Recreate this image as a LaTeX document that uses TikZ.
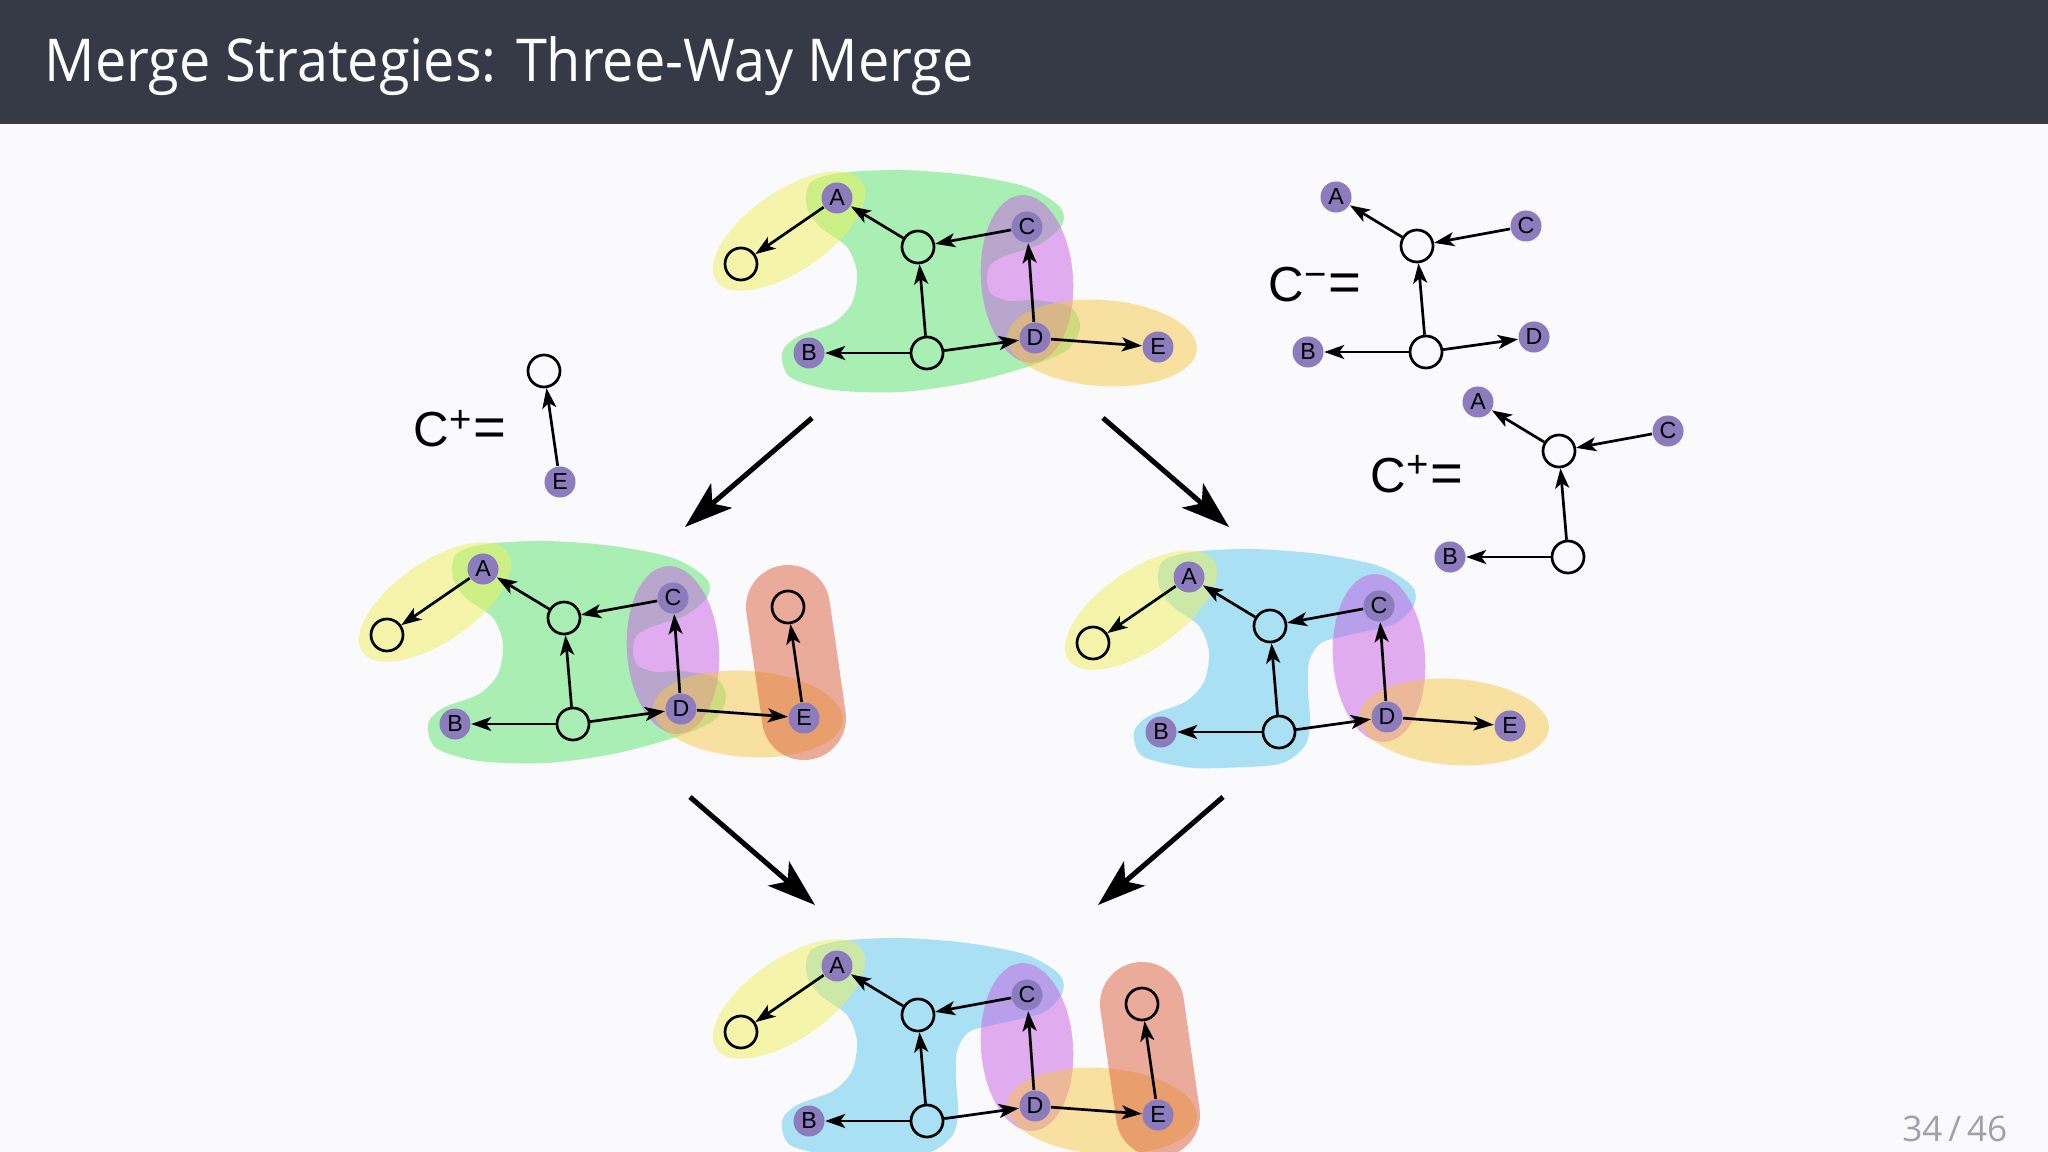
\documentclass[tikz,border=0pt]{standalone}
\usepackage{fontspec}
\setmainfont{Open Sans}
\setsansfont{Liberation Sans}
\newfontfamily\titlefont[FakeStretch=0.945]{Open Sans}
\usetikzlibrary{arrows.meta}

\definecolor{slidebar}{RGB}{54,57,70}
\definecolor{slidebg}{RGB}{250,249,252}
\definecolor{pagegray}{RGB}{160,160,166}
\definecolor{commitpurple}{RGB}{140,124,190}
\definecolor{hullgreen}{RGB}{90,230,110}
\definecolor{hullblue}{RGB}{90,200,238}
\definecolor{hullyellow}{RGB}{240,240,90}
\definecolor{hullpurple}{RGB}{200,95,228}
\definecolor{hullorange}{RGB}{246,200,70}
\definecolor{hullred}{RGB}{220,95,60}

\tikzset{
  commit/.style={circle, fill=commitpurple, inner sep=0pt, minimum size=0.31cm,
    font=\sffamily\fontsize{6.6}{7}\selectfont},
  blank/.style={circle, draw=black, line width=0.027cm, inner sep=0pt, minimum size=0.32cm},
  dep/.style={-{Stealth[length=0.2cm, width=0.14cm, inset=0.05cm]}, line width=0.027cm},
  hull/.style={fill=#1, fill opacity=0.5},
  band/.style={draw=#1, draw opacity=0.5, line width=0.84cm, line cap=round},
  bigarrow/.style={-{Stealth[length=0.48cm, width=0.32cm, inset=0.12cm]}, line width=0.05cm},
  eqlabel/.style={anchor=base west, inner sep=0pt, font=\sffamily\fontsize{14}{15}\selectfont},
}

% C with a raised sign and a large equals sign
\newcommand{\changeset}[1]{C\raisebox{4.1pt}{\fontsize{10.9}{11}\selectfont #1}\hspace{0.5pt}{\fontsize{16}{17}\selectfont =}}

% hulls, drawn in the local frame of one graph (A at the origin)
\newcommand{\greenhull}{\fill[hull=hullgreen] plot[smooth cycle] coordinates {
  (-27,-15) (3,-25) (63,-28) (130,-23) (190,-11) (223,9) (225,27) (203,46)
  (168,58) (153,67) (150,82) (154,96) (172,103) (198,102) (233,109) (243,129)
  (230,152) (190,169) (130,185) (63,194) (-4,192) (-47,179) (-55,155) (-40,139)
  (-4,125) (15,105) (20,75) (10,49) (-17,29) (-30,9)};}
\newcommand{\bluehull}{\fill[hull=hullblue] plot[smooth cycle] coordinates {
  (-27,-15) (3,-25) (63,-28) (130,-23) (190,-11) (223,9) (225,28) (205,47)
  (160,58) (132,66) (120,85) (119,113) (121,147) (115,170) (90,187) (30,191)
  (-4,190) (-47,179) (-55,155) (-40,139) (-4,125) (15,105) (20,75) (10,49)
  (-17,29) (-30,9)};}
\newcommand{\sidehulls}{
  \fill[hull=hullyellow, rotate around={34.5:(-48,33)}] (-48,33) ellipse [x radius=0.88cm, y radius=0.4cm];
  \fill[hull=hullpurple, rotate around={4:(190,81)}] (190,81) ellipse [x radius=0.46cm, y radius=0.84cm];
  \fill[hull=hullorange, rotate around={-4:(265,145)}] (265,145) ellipse [x radius=0.95cm, y radius=0.43cm];
}
\newcommand{\redhull}{\draw[band=hullred] (305,38) -- (321,149);}

% commits of one full graph, #1 = prefix of the names
\newcommand{\fullgraph}[1]{
  \node[commit] (#1a) at (0,0) {A};
  \node[blank]  (#1l) at (-96,66) {};
  \node[blank]  (#1t) at (81,49) {};
  \node[commit] (#1c) at (190,29) {C};
  \node[commit] (#1b) at (-28,155) {B};
  \node[blank]  (#1m) at (90,155) {};
  \node[commit] (#1d) at (198,140) {D};
  \node[commit] (#1e) at (321,149) {E};
  \draw[dep] (#1a) -- (#1l);
  \draw[dep] (#1t) -- (#1a);
  \draw[dep] (#1c) -- (#1t);
  \draw[dep] (#1m) -- (#1t);
  \draw[dep] (#1m) -- (#1b);
  \draw[dep] (#1m) -- (#1d);
  \draw[dep] (#1d) -- (#1c);
  \draw[dep] (#1d) -- (#1e);
}
\newcommand{\extracommit}[1]{
  \node[blank] (#1f) at (305,38) {};
  \draw[dep] (#1e) -- (#1f);
}

\begin{document}
\begin{tikzpicture}[x=0.01cm, y=-0.01cm]
  \useasboundingbox (0,0) rectangle (2048,1152);
  \fill[slidebg] (0,0) rectangle (2048,1152);
  \fill[slidebar] (0,0) rectangle (2048,124);
  \node[anchor=base west, inner sep=0pt, text=white, font=\titlefont\fontsize{16.8}{20}\selectfont]
    (title) at (44,82) {Merge Strategies: Three-Way Merge};

  % common ancestor
  \begin{scope}[shift={(837,198)}]
    \greenhull
    \sidehulls
    \fullgraph{base}
  \end{scope}

  % left branch
  \begin{scope}[shift={(483,569)}]
    \greenhull
    \sidehulls
    \redhull
    \fullgraph{left}
    \extracommit{left}
  \end{scope}

  % right branch
  \begin{scope}[shift={(1189,577)}]
    \bluehull
    \sidehulls
    \fullgraph{right}
  \end{scope}

  % merge result
  \begin{scope}[shift={(837,966)}]
    \bluehull
    \sidehulls
    \redhull
    \fullgraph{merge}
    \extracommit{merge}
  \end{scope}

  % C+ of the left branch
  \node[eqlabel] (lpluslabel) at (413,447) {\changeset{+}};
  \begin{scope}[shift={(239,333)}]
    \node[blank]  (lplusf) at (305,38) {};
    \node[commit] (lpluse) at (321,149) {E};
    \draw[dep] (lpluse) -- (lplusf);
  \end{scope}

  % C- of the right branch
  \node[eqlabel] (minuslabel) at (1268,302) {\changeset{−}};
  \begin{scope}[shift={(1336,197)}]
    \node[commit] (minusa) at (0,0) {A};
    \node[blank]  (minust) at (81,49) {};
    \node[commit] (minusc) at (190,29) {C};
    \node[commit] (minusb) at (-28,155) {B};
    \node[blank]  (minusm) at (90,155) {};
    \node[commit] (minusd) at (198,140) {D};
    \draw[dep] (minust) -- (minusa);
    \draw[dep] (minusc) -- (minust);
    \draw[dep] (minusm) -- (minust);
    \draw[dep] (minusm) -- (minusb);
    \draw[dep] (minusm) -- (minusd);
  \end{scope}

  % C+ of the right branch
  \node[eqlabel] (rpluslabel) at (1370,492) {\changeset{+}};
  \begin{scope}[shift={(1478,402)}]
    \node[commit] (rplusa) at (0,0) {A};
    \node[blank]  (rplust) at (81,49) {};
    \node[commit] (rplusc) at (190,29) {C};
    \node[commit] (rplusb) at (-28,155) {B};
    \node[blank]  (rplusm) at (90,155) {};
    \draw[dep] (rplust) -- (rplusa);
    \draw[dep] (rplusc) -- (rplust);
    \draw[dep] (rplusm) -- (rplust);
    \draw[dep] (rplusm) -- (rplusb);
  \end{scope}

  % big arrows between the graphs
  \coordinate (toleftfrom) at (812,418);
  \coordinate (tolefttip) at (685,527);
  \coordinate (torightfrom) at (1103,418);
  \coordinate (torighttip) at (1229,527);
  \coordinate (fromleftfrom) at (690,797);
  \coordinate (fromlefttip) at (815,905);
  \coordinate (fromrightfrom) at (1223,797);
  \coordinate (fromrighttip) at (1098,905);
  \draw[bigarrow] (toleftfrom) -- (tolefttip);
  \draw[bigarrow] (torightfrom) -- (torighttip);
  \draw[bigarrow] (fromleftfrom) -- (fromlefttip);
  \draw[bigarrow] (fromrightfrom) -- (fromrighttip);

  \node[anchor=base east, inner sep=0pt, text=pagegray, font=\fontsize{10}{12}\selectfont]
    (pagenum) at (2008,1141) {34\,/\,46};
\end{tikzpicture}
\end{document}
